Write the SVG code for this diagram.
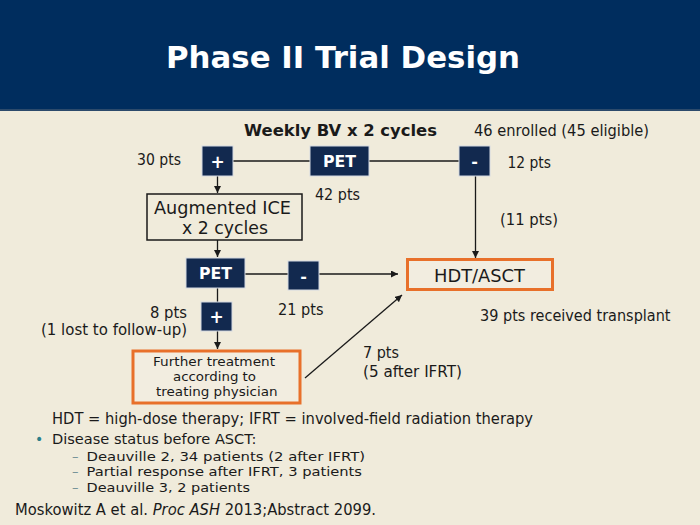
<svg xmlns="http://www.w3.org/2000/svg" width="700" height="525" viewBox="0 0 700 525">
<defs>
<style>
text{font-family:"DejaVu Sans","Verdana",sans-serif;fill:#1a1a1a;}
.t15{font-size:15px;}
.t13{font-size:13px;}
.b{font-weight:bold;}
.w{fill:#ffffff;font-weight:bold;}
.navy{fill:#12294f;stroke:#d3d9e2;stroke-width:1;}
.orange{fill:#f2ede0;stroke:#e8702a;stroke-width:3;}
.plain{fill:#f0ebdb;stroke:#1a1a1a;stroke-width:1.5;}
.ln{stroke:#1a1a1a;stroke-width:1.3;fill:none;}
.dash{font-size:13px;fill:#6f8f95;}
</style>
<marker id="ah" viewBox="0 0 10 10" refX="10" refY="5" markerWidth="7" markerHeight="7" markerUnits="userSpaceOnUse" orient="auto">
<path d="M0,0 L10,5 L0,10 z" fill="#1a1a1a"/>
</marker>
</defs>
<rect x="0" y="0" width="700" height="525" fill="#f0ebdb"/>
<g id="header">
<rect x="0" y="0" width="700" height="110" fill="#002d5e"/>
<rect x="0" y="109" width="700" height="2" fill="#2c4a6b"/>
<text x="166" y="68" class="w" style="font-size:30px" textLength="354" lengthAdjust="spacingAndGlyphs">Phase II Trial Design</text>
</g>

<g id="connectors">
<line class="ln" x1="233" y1="161" x2="310" y2="161"/>
<line class="ln" x1="369" y1="161" x2="459" y2="161"/>
<line class="ln" x1="217.5" y1="176" x2="217.5" y2="193" marker-end="url(#ah)"/>
<line class="ln" x1="217.5" y1="240" x2="217.5" y2="257" marker-end="url(#ah)"/>
<line class="ln" x1="475.5" y1="176" x2="475.5" y2="258" marker-end="url(#ah)"/>
<line class="ln" x1="245" y1="274" x2="288" y2="274"/>
<line class="ln" x1="319" y1="274" x2="398" y2="274" marker-end="url(#ah)"/>
<line class="ln" x1="217.5" y1="288" x2="217.5" y2="302"/>
<line class="ln" x1="217.5" y1="331" x2="217.5" y2="349" marker-end="url(#ah)"/>
<line class="ln" x1="305" y1="378" x2="402" y2="295" marker-end="url(#ah)"/>
</g>

<g id="title-bv">
<text x="244" y="136" class="b" style="font-size:16px" textLength="193" lengthAdjust="spacingAndGlyphs">Weekly BV x 2 cycles</text>
<text x="474" y="136" class="t15" textLength="175" lengthAdjust="spacingAndGlyphs">46 enrolled (45 eligible)</text>
</g>

<g id="plus1">
<rect class="navy" x="202" y="146" width="31" height="30"/>
<text x="217.5" y="168" class="w" style="font-size:17px" text-anchor="middle">+</text>
</g>
<g id="pet1">
<rect class="navy" x="310" y="146" width="59" height="30"/>
<text x="339.5" y="167" class="w" style="font-size:15px" text-anchor="middle" textLength="33" lengthAdjust="spacingAndGlyphs">PET</text>
</g>
<g id="minus1">
<rect class="navy" x="459" y="146" width="31" height="30"/>
<text x="474.5" y="167" class="w" style="font-size:16px" text-anchor="middle">-</text>
</g>

<g id="labels-top">
<text x="137" y="165" class="t15" textLength="44" lengthAdjust="spacingAndGlyphs">30 pts</text>
<text x="507.5" y="168" class="t15" textLength="43.5" lengthAdjust="spacingAndGlyphs">12 pts</text>
<text x="315" y="200" class="t15" textLength="45" lengthAdjust="spacingAndGlyphs">42 pts</text>
<text x="500" y="225" class="t15" textLength="58" lengthAdjust="spacingAndGlyphs">(11 pts)</text>
</g>

<g id="ice">
<rect class="plain" x="147" y="194" width="155" height="46"/>
<text x="154" y="214" style="font-size:17px" textLength="137" lengthAdjust="spacingAndGlyphs">Augmented ICE</text>
<text x="182" y="234" style="font-size:17px" textLength="86" lengthAdjust="spacingAndGlyphs">x 2 cycles</text>
</g>

<g id="pet2">
<rect class="navy" x="186" y="258" width="59" height="30"/>
<text x="215.5" y="279" class="w" style="font-size:15px" text-anchor="middle" textLength="33" lengthAdjust="spacingAndGlyphs">PET</text>
</g>
<g id="minus2">
<rect class="navy" x="288" y="261" width="31" height="29"/>
<text x="303.5" y="282" class="w" style="font-size:16px" text-anchor="middle">-</text>
</g>

<g id="hdt">
<rect class="orange" x="407.5" y="259.5" width="145" height="30"/>
<text x="434" y="282" style="font-size:17px" textLength="91" lengthAdjust="spacingAndGlyphs">HDT/ASCT</text>
</g>

<g id="plus2">
<rect class="navy" x="201" y="302" width="31" height="29"/>
<text x="216.5" y="323" class="w" style="font-size:17px" text-anchor="middle">+</text>
</g>

<g id="labels-mid">
<text x="187" y="318" class="t15" text-anchor="end" textLength="37" lengthAdjust="spacingAndGlyphs">8 pts</text>
<text x="187" y="335" class="t15" text-anchor="end" textLength="146" lengthAdjust="spacingAndGlyphs">(1 lost to follow-up)</text>
<text x="278" y="315" class="t15" textLength="45.5" lengthAdjust="spacingAndGlyphs">21 pts</text>
<text x="480" y="321" class="t15" textLength="190.5" lengthAdjust="spacingAndGlyphs">39 pts received transplant</text>
<text x="363" y="358" class="t15" textLength="36" lengthAdjust="spacingAndGlyphs">7 pts</text>
<text x="363" y="377" class="t15" textLength="99" lengthAdjust="spacingAndGlyphs">(5 after IFRT)</text>
</g>

<g id="further">
<rect class="orange" x="133" y="351" width="167" height="52"/>
<text x="153" y="366" style="font-size:12.5px" textLength="122" lengthAdjust="spacingAndGlyphs">Further treatment</text>
<text x="173" y="381" style="font-size:12.5px" textLength="83" lengthAdjust="spacingAndGlyphs">according to</text>
<text x="156" y="396" style="font-size:12.5px" textLength="121.5" lengthAdjust="spacingAndGlyphs">treating physician</text>
</g>

<g id="notes">
<text x="52" y="424" class="t15" textLength="481" lengthAdjust="spacingAndGlyphs">HDT = high-dose therapy; IFRT = involved-field radiation therapy</text>
<text x="35" y="444" style="font-size:14px;fill:#2a7f8a">•</text>
<text x="52" y="444" style="font-size:14px" textLength="204.5" lengthAdjust="spacingAndGlyphs">Disease status before ASCT:</text>
<text x="72" y="460.5" class="dash">–</text>
<text x="86.5" y="460.5" class="t13" textLength="278.5" lengthAdjust="spacingAndGlyphs">Deauville 2, 34 patients (2 after IFRT)</text>
<text x="72" y="476" class="dash">–</text>
<text x="86.5" y="476" class="t13" textLength="275.5" lengthAdjust="spacingAndGlyphs">Partial response after IFRT, 3 patients</text>
<text x="72" y="491.5" class="dash">–</text>
<text x="86.5" y="491.5" class="t13" textLength="163.5" lengthAdjust="spacingAndGlyphs">Deauville 3, 2 patients</text>
<text x="15" y="515" class="t15" textLength="361" lengthAdjust="spacingAndGlyphs">Moskowitz A et al. <tspan font-style="italic">Proc ASH</tspan> 2013;Abstract 2099.</text>
</g>
</svg>
